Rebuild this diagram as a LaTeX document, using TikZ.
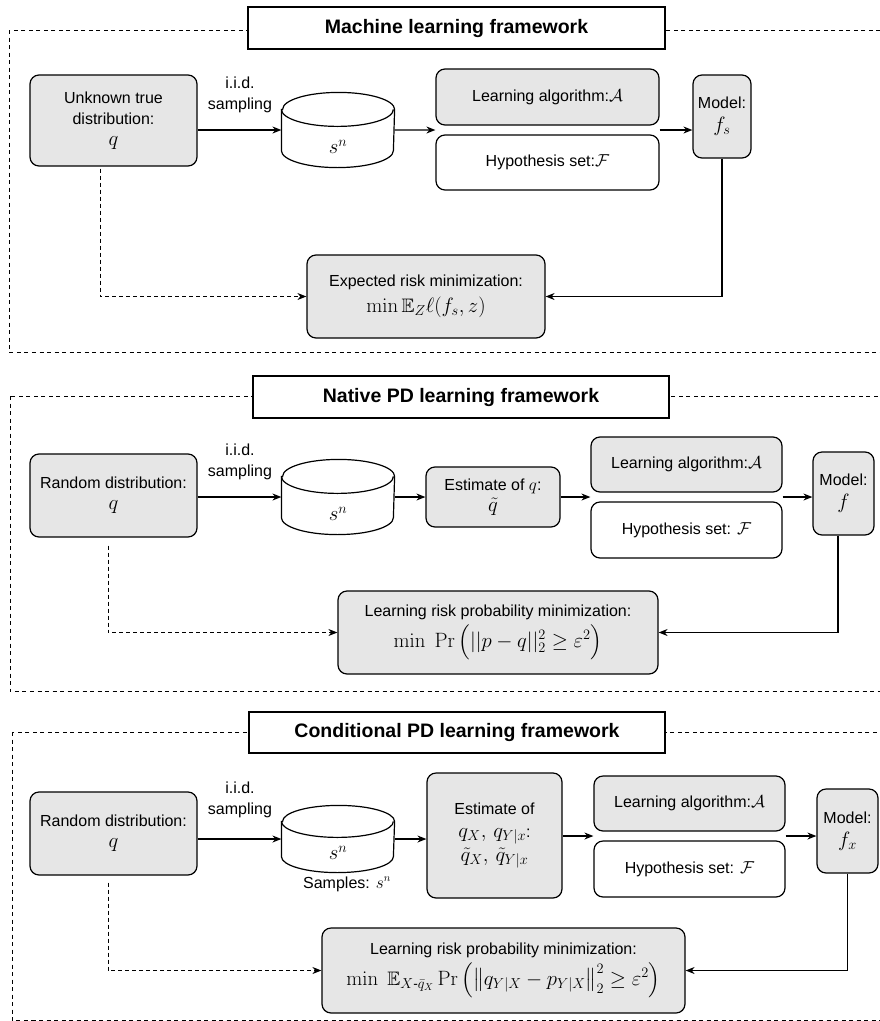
\documentclass[tikz,border=0pt]{standalone}
\usepackage{amssymb,amsmath}
\usepackage[no-math]{fontspec}
\setmainfont{Liberation Sans}
\usetikzlibrary{calc,arrows.meta}
\definecolor{boxgray}{HTML}{E6E6E6}
\newcommand{\mth}[1]{{\fontsize{19.5}{24}\selectfont$#1$}}
% database drum drawn over a plain node: #1 node name, #2 half width, #3 cap radius
\newcommand{\drum}[3]{%
	\draw[fill=white] ([yshift=-#3]#1.north west) -- ([yshift=#3]#1.south west)
		arc[start angle=180,end angle=360,x radius=#2,y radius=#3]
		-- ([yshift=-#3]#1.north east)
		arc[start angle=0,end angle=180,x radius=#2,y radius=#3] -- cycle;
	\draw ([yshift=-#3]#1.north west) arc[start angle=180,end angle=360,x radius=#2,y radius=#3];}

\begin{document}
\begin{tikzpicture}[x=1pt,y=-1pt,line width=1.2pt,
	box/.style={draw,rounded corners=9pt,align=center,inner sep=0pt,font=\fontsize{16}{21}\selectfont},
	gbox/.style={box,fill=boxgray},
	wbox/.style={box,fill=white},
	head/.style={draw,fill=white,inner sep=0pt,font=\bfseries\fontsize{19.5}{23}\selectfont},
	panel/.style={line width=1pt,dash pattern=on 4pt off 3.5pt},
	db/.style={inner sep=0pt},
	arr/.style={-{Stealth[length=9pt,width=7pt]}},
	darr/.style={arr,line width=1pt,dash pattern=on 4pt off 3pt},
	lbl/.style={align=center,font=\fontsize{16}{21}\selectfont}]
	\useasboundingbox (0,0) rectangle (879,1021);

	% machine learning
	\draw[panel] (9,30) rectangle (895,352);
	\node[head,minimum width=417pt,minimum height=42pt] (t1) at (456.5,28) {Machine learning framework};
	\node[gbox,minimum width=167pt,minimum height=91pt] (q1) at (113.5,120.5) {Unknown true\\distribution:\\\mth{q}};
	\node[db,minimum width=112pt,minimum height=74pt] (s1) at (338,130) {};
	\drum{s1}{56pt}{17pt}
	\node at ([yshift=-17pt]s1.center) {\mth{s^n}};
	\node[lbl] (iid1) at (240,95) {i.i.d.\\sampling};
	\node[gbox,minimum width=223pt,minimum height=56pt] (alg1) at (547.5,97) {Learning algorithm:$\mathcal{A}$};
	\node[wbox,minimum width=223pt,minimum height=55pt] (hyp1) at (547.5,162.5) {Hypothesis set:$\mathcal{F}$};
	\node[gbox,minimum width=58pt,minimum height=83pt] (m1) at (722,116.5) {Model:\\[2pt]\mth{f_s}};
	\node[gbox,minimum width=238pt,minimum height=83pt] (r1) at (426,296.5) {Expected risk minimization:\\[5pt]\mth{\min\mathbb{E}_Z\ell(f_s,z)}};
	\coordinate (j1) at ($(alg1.south west)!0.5!(hyp1.north west)$);
	\coordinate (k1) at ($(alg1.south east)!0.5!(hyp1.north east)$);
	\draw[arr] (q1.east |- s1.center) -- (s1.west);
	\draw[arr] (s1.east) -- (j1);
	\draw[arr] (k1) -- (m1.west |- k1);
	\draw[arr] (m1.south) |- (r1.east);
	\draw[darr] ([xshift=-13.5pt,yshift=-2pt]q1.south) |- (r1.west);

	% native PD
	\draw[panel] (10,396) rectangle (895,691);
	\node[head,minimum width=416pt,minimum height=42pt] (t2) at (461,397) {Native PD learning framework};
	\node[gbox,minimum width=167pt,minimum height=83pt] (q2) at (113.5,495.5) {Random distribution:\\\mth{q}};
	\node[db,minimum width=112pt,minimum height=74pt] (s2) at (338,497) {};
	\drum{s2}{56pt}{17pt}
	\node at ([yshift=-17pt]s2.center) {\mth{s^n}};
	\node[lbl] (iid2) at (240,462) {i.i.d.\\sampling};
	\node[gbox,minimum width=134pt,minimum height=60pt] (e2) at (493,497) {Estimate of $q$:\\\mth{\tilde{q}}};
	\node[gbox,minimum width=191pt,minimum height=55pt] (alg2) at (686.5,464.5) {Learning algorithm:$\mathcal{A}$};
	\node[wbox,minimum width=191pt,minimum height=56pt] (hyp2) at (686.5,530) {Hypothesis set: $\mathcal{F}$};
	\node[gbox,minimum width=61pt,minimum height=83pt] (m2) at (843.5,493.5) {Model:\\[2pt]\mth{f}};
	\node[gbox,minimum width=320pt,minimum height=83pt] (r2) at (498,632.5) {Learning risk probability minimization:\\[3pt]\mth{\min\;\Pr\Big(||p-q||_2^2\geq\varepsilon^2\Big)}};
	\coordinate (j2) at ($(alg2.south west)!0.5!(hyp2.north west)$);
	\coordinate (k2) at ($(alg2.south east)!0.5!(hyp2.north east)$);
	\draw[arr] (q2.east |- s2.center) -- (s2.west);
	\draw[arr] (s2.east) -- (e2.west |- s2.east);
	\draw[arr] (e2.east |- j2) -- (j2);
	\draw[arr] (k2) -- (m2.west |- k2);
	\draw[arr] ([xshift=-5.5pt]m2.south) |- (r2.east);
	\draw[darr] ([xshift=-5.5pt,yshift=-8pt]q2.south) |- (r2.west);

	% conditional PD
	\draw[panel] (12,732) rectangle (895,1020);
	\node[head,minimum width=416pt,minimum height=41pt] (t3) at (457,732.5) {Conditional PD learning framework};
	\node[gbox,minimum width=167pt,minimum height=83pt] (q3) at (113.5,833.5) {Random distribution:\\\mth{q}};
	\node[db,minimum width=112pt,minimum height=66pt] (s3) at (338,839) {};
	\drum{s3}{56pt}{16pt}
	\node at ([yshift=-14pt]s3.center) {\mth{s^n}};
	\node[lbl] (smp3) at (347,884) {Samples: $s^n$};
	\node[lbl] (iid3) at (240,800) {i.i.d.\\sampling};
	\node[gbox,minimum width=135pt,minimum height=125pt] (e3) at (494.5,835.5) {Estimate of\\[2pt]\mth{q_X,\,q_{Y|x}}:\\[3pt]\mth{\tilde{q}_X,\,\tilde{q}_{Y|x}}};
	\node[gbox,minimum width=191pt,minimum height=55pt] (alg3) at (689.5,803.5) {Learning algorithm:$\mathcal{A}$};
	\node[wbox,minimum width=191pt,minimum height=56pt] (hyp3) at (689.5,869) {Hypothesis set: $\mathcal{F}$};
	\node[gbox,minimum width=61pt,minimum height=84pt] (m3) at (847.5,831) {Model:\\[2pt]\mth{f_x}};
	\node[gbox,minimum width=363pt,minimum height=85pt] (r3) at (503.5,970.5) {Learning risk probability minimization:\\[3pt]\mth{\min\;\mathbb{E}_{X\text{-}\bar{q}_X}\Pr\Big(\big\|q_{Y|X}-p_{Y|X}\big\|_2^2\geq\varepsilon^2\Big)}};
	\coordinate (j3) at ($(alg3.south west)!0.5!(hyp3.north west)$);
	\coordinate (k3) at ($(alg3.south east)!0.5!(hyp3.north east)$);
	\draw[arr] (q3.east |- s3.center) -- (s3.west);
	\draw[arr] (s3.east) -- (e3.west |- s3.east);
	\draw[arr] (e3.east |- j3) -- (j3);
	\draw[arr] (k3) -- (m3.west |- k3);
	\draw[arr] (m3.south) |- (r3.east);
	\draw[darr] ([xshift=-5.5pt,yshift=-7pt]q3.south) |- (r3.west);
\end{tikzpicture}
\end{document}
